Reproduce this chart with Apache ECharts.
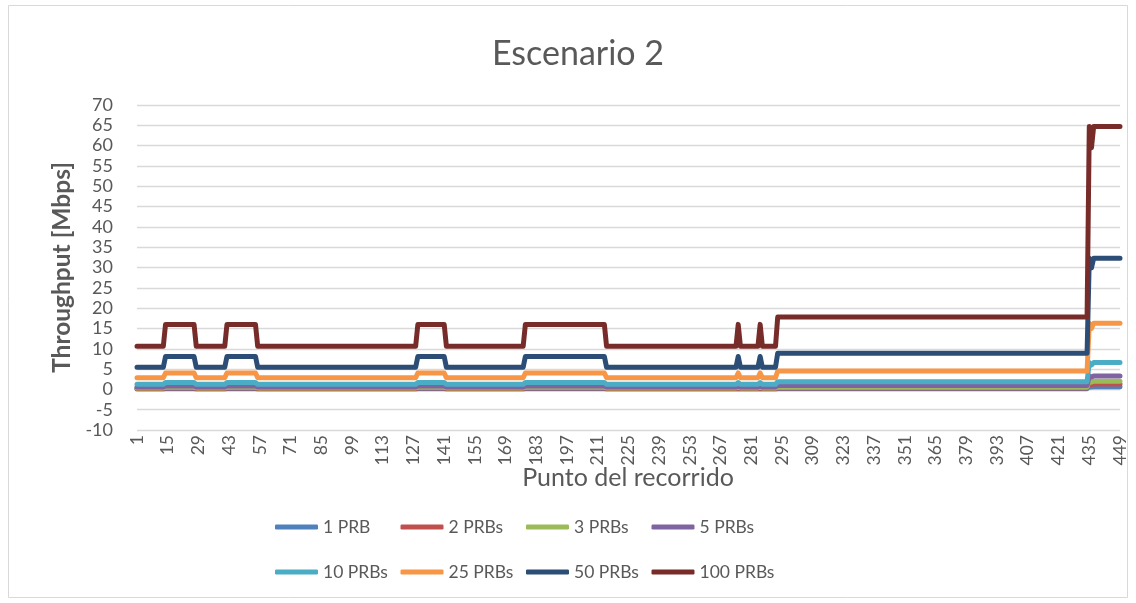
<!DOCTYPE html>
<html>
<head>
<meta charset="utf-8">
<title>Escenario 2</title>
<script src="https://cdn.jsdelivr.net/npm/echarts@6/dist/echarts.min.js"></script>
<style>
  html, body { margin: 0; padding: 0; background: #ffffff; }
  #chart { width: 1136px; height: 603px; }
</style>
</head>
<body>
<div id="chart"></div>
<script>
// Route points 1..449 along the x axis
const pointCount = 449;

// Throughput is piecewise constant along the route: each stretch starts at a
// route point and holds one level until the next stretch begins.
// Level keys: 0 = base, 1 = high, 2 = mid, 3 = top, 4 = dip
const stretchStart = [1, 14, 28, 42, 56, 129, 142, 178, 215, 275, 276, 285, 286, 293, 435, 436, 437];
const stretchLevel = [0, 1, 0, 1, 0, 1, 0, 1, 0, 1, 0, 1, 0, 2, 3, 4, 3];

// Levels per bandwidth [base, high, mid, top, dip] in Mbps
const prb1Levels   = [0.10, 0.15, 0.17, 0.65, 0.60];
const prb2Levels   = [0.22, 0.32, 0.36, 1.30, 1.20];
const prb3Levels   = [0.35, 0.50, 0.55, 2.00, 1.80];
const prb5Levels   = [0.60, 0.85, 0.95, 3.30, 3.00];
const prb10Levels  = [1.25, 1.70, 1.90, 6.60, 6.00];
const prb25Levels  = [2.85, 4.05, 4.50, 16.30, 15.00];
const prb50Levels  = [5.45, 8.10, 8.90, 32.30, 29.90];
const prb100Levels = [10.60, 16.00, 17.80, 64.70, 59.50];

const seriesNames  = ['1 PRB', '2 PRBs', '3 PRBs', '5 PRBs', '10 PRBs', '25 PRBs', '50 PRBs', '100 PRBs'];
const seriesColors = ['#4F81BD', '#C0504D', '#9BBB59', '#8064A2', '#4BACC6', '#F79646', '#2C4D75', '#772C2A'];
const seriesLevels = [prb1Levels, prb2Levels, prb3Levels, prb5Levels, prb10Levels, prb25Levels, prb50Levels, prb100Levels];

// Y axis ticks
const yMin = -10, yMax = 70, yStep = 5;

const categories = [];
for (let p = 1; p <= pointCount; p++) categories.push(String(p));

// Expand the stretches of one bandwidth into a value per route point
function expand(levels) {
  const values = [];
  for (let s = 0; s < stretchStart.length; s++) {
    const from = stretchStart[s];
    const to = s + 1 < stretchStart.length ? stretchStart[s + 1] - 1 : pointCount;
    for (let p = from; p <= to; p++) values.push(levels[stretchLevel[s]]);
  }
  return values;
}

const FONT = 'Lato, "Open Sans", sans-serif';
const TEXT = '#595959';
const GRID = '#D9D9D9';

const series = seriesNames.map((name, i) => ({
  name: name,
  type: 'line',
  data: expand(seriesLevels[i]),
  symbol: 'none',
  color: seriesColors[i],
  lineStyle: { width: 5, color: seriesColors[i], cap: 'round', join: 'round' },
  emphasis: { disabled: true },
  animation: false,
  z: 2 + i
}));

// Legend laid out as a 4 x 2 table of equal-width cells
const legendLeft = 275, legendColWidth = 125.5;
const legendRowTop = [518, 563];
const legends = seriesNames.map((name, i) => ({
  data: [name],
  left: legendLeft + (i % 4) * legendColWidth,
  top: legendRowTop[Math.floor(i / 4)],
  padding: 0,
  icon: 'roundRect',
  itemWidth: 43,
  itemHeight: 5,
  textStyle: { fontFamily: FONT, fontSize: 17.5, color: TEXT },
  selectedMode: false
}));

const chart = echarts.init(document.getElementById('chart'), null, { renderer: 'canvas' });
chart.setOption({
  backgroundColor: '#ffffff',
  animation: false,
  title: {
    text: 'Escenario 2',
    left: 487,
    top: 32,
    textStyle: { fontFamily: FONT, fontSize: 34, fontWeight: 'normal', color: TEXT }
  },
  legend: legends,
  grid: { left: 137, right: 16, top: 105, bottom: 173, containLabel: false },
  xAxis: {
    type: 'category',
    data: categories,
    boundaryGap: false,
    axisLine: { onZero: true, lineStyle: { color: GRID, width: 1.3 } },
    axisTick: { show: false },
    axisLabel: { interval: 13, rotate: 90, margin: 5, fontFamily: FONT, fontSize: 17.5, color: TEXT },
    splitLine: { show: false }
  },
  yAxis: {
    type: 'value',
    min: yMin,
    max: yMax,
    interval: yStep,
    name: 'Throughput [Mbps]',
    nameLocation: 'middle',
    nameGap: 62,
    nameRotate: 90,
    nameTextStyle: { fontFamily: FONT, fontSize: 24.5, fontWeight: 'bold', color: TEXT },
    axisLine: { show: false },
    axisTick: { show: false },
    axisLabel: { margin: 24, fontFamily: FONT, fontSize: 18, color: TEXT },
    splitLine: { lineStyle: { color: GRID, width: 1.3 } }
  },
  graphic: [
    {
      type: 'rect',
      shape: { x: 8.5, y: 5.5, width: 1119, height: 592 },
      style: { fill: 'none', stroke: GRID, lineWidth: 1 },
      silent: true,
      z: -1
    },
    {
      // x axis title, centred under the plot area
      type: 'text',
      x: 628,
      y: 478,
      style: {
        text: 'Punto del recorrido',
        fontFamily: FONT,
        fontSize: 25,
        fill: TEXT,
        align: 'center',
        verticalAlign: 'middle'
      },
      silent: true
    }
  ],
  series: series
});
</script>
</body>
</html>
